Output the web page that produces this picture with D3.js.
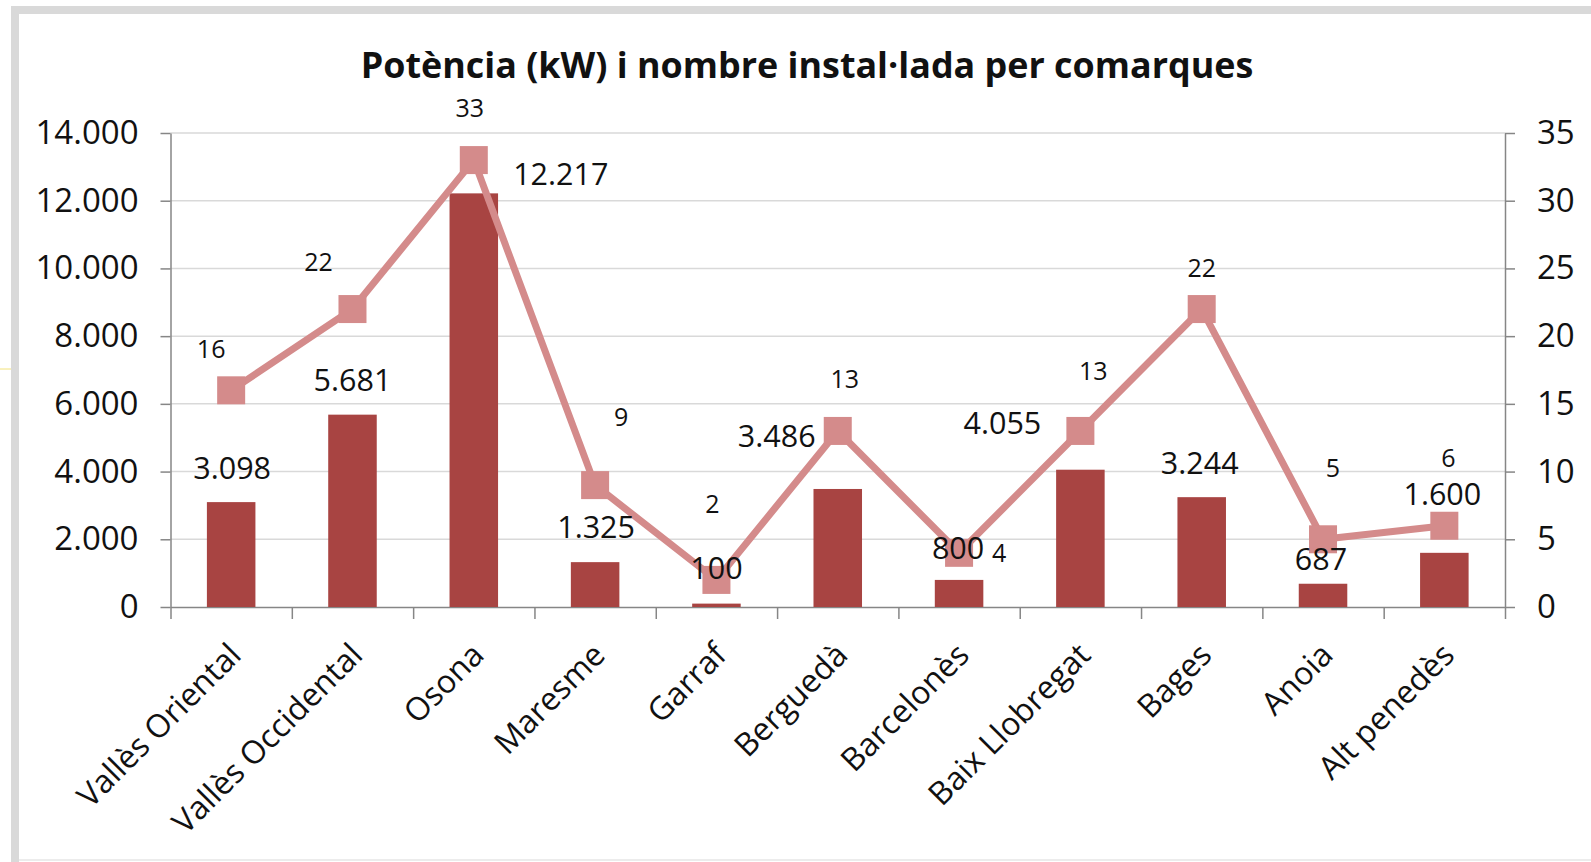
<!DOCTYPE html>
<html>
<head>
<meta charset="utf-8">
<script src="https://cdn.jsdelivr.net/npm/d3@7"></script>
<style>
  body { margin: 0; background: #fff; }
  svg text { font-family: "Open Sans", "Noto Sans", sans-serif; fill: #111; }
</style>
</head>
<body>
<svg id="chart" width="1591" height="862"></svg>
<script>
// ==================== DADES ====================
const comarques = ["Vallès Oriental", "Vallès Occidental", "Osona", "Maresme", "Garraf",
  "Berguedà", "Barcelonès", "Baix Llobregat", "Bages", "Anoia", "Alt penedès"];
const potencia = [3098, 5681, 12217, 1325, 100, 3486, 800, 4055, 3244, 687, 1600];   // kW
const nombre   = [16, 22, 33, 9, 2, 13, 4, 13, 22, 5, 6];                              // instal·lacions
const potenciaTicks = [0, 2000, 4000, 6000, 8000, 10000, 12000, 14000];
const nombreTicks   = [0, 5, 10, 15, 20, 25, 30, 35];
const titol = "Potència (kW) i nombre instal·lada per comarques";

// desplaçaments de les etiquetes (com a l'original, col·locades a mà)
const barLabelDx  = [1, 0, 87, 1, 0, -61, -1, -78, -2, -2, -2];
const barLabelDy  = [-34, -34, -19, -35, -35, -53, -32, -46, -34, -24, -59];
const lineLabelDx = [-20, -34, -4, 26, -4, 7, 40, 13, 0, 10, 4];
const lineLabelDy = [-41, -47, -52, -68, -76, -52, 0, -60, -41, -71, -67];

// ==================== ESTIL ====================
const BAR_COLOR  = "#a84442";
const LINE_COLOR = "#d48b8b";
const GRID_COLOR = "#d9d9d9";
const AXIS_COLOR = "#868686";

const plotLeft = 170.5, plotRight = 1505, plotTop = 133, plotBottom = 607;

const loc = d3.formatLocale({ decimal: ",", thousands: ".", grouping: [3], currency: ["", "€"] });
const fmt = loc.format(",d");

const svg = d3.select("#chart");

// marc
svg.append("line").attr("x1", 15).attr("x2", 15).attr("y1", 6).attr("y2", 862)
  .attr("stroke", GRID_COLOR).attr("stroke-width", 8);
svg.append("line").attr("x1", 11).attr("x2", 1591).attr("y1", 10).attr("y2", 10)
  .attr("stroke", GRID_COLOR).attr("stroke-width", 8);
svg.append("line").attr("x1", 19).attr("x2", 1591).attr("y1", 860).attr("y2", 860)
  .attr("stroke", "#e6e6e6").attr("stroke-width", 1.5);
svg.append("line").attr("x1", 0).attr("x2", 11).attr("y1", 369).attr("y2", 369)
  .attr("stroke", "#f2e27a").attr("stroke-width", 1);

// ==================== ESCALES ====================
const x = d3.scaleBand().domain(comarques).range([plotLeft, plotRight])
  .paddingInner(0.6).paddingOuter(0.3);
const xEdges = d3.scaleLinear().domain([0, comarques.length]).range([plotLeft, plotRight]);
const yL = d3.scaleLinear().domain([0, 14000]).range([plotBottom, plotTop]);
const yR = d3.scaleLinear().domain([0, 35]).range([plotBottom, plotTop]);
const cx = d => x(d) + x.bandwidth() / 2;

// graella
svg.append("g")
  .selectAll("line")
  .data(potenciaTicks.filter(t => t > 0))
  .join("line")
  .attr("x1", plotLeft).attr("x2", plotRight)
  .attr("y1", d => yL(d)).attr("y2", d => yL(d))
  .attr("stroke", GRID_COLOR).attr("stroke-width", 1.5);

// ==================== EIXOS ====================
function styleAxis(g) {
  g.selectAll("path, line").attr("stroke", AXIS_COLOR).attr("stroke-width", 1.5);
  g.selectAll("text").attr("font-size", 33).attr("fill", "#111")
    .attr("font-family", '"Open Sans", "Noto Sans", sans-serif');
}

svg.append("g")
  .attr("transform", `translate(${plotLeft},0)`)
  .call(d3.axisLeft(yL).tickValues(potenciaTicks).tickFormat(fmt)
    .tickSize(10).tickSizeOuter(0).tickPadding(22))
  .call(styleAxis);

svg.append("g")
  .attr("transform", `translate(${plotRight},0)`)
  .call(d3.axisRight(yR).tickValues(nombreTicks)
    .tickSize(10).tickSizeOuter(0).tickPadding(22))
  .call(styleAxis);

svg.append("g")
  .attr("transform", `translate(0,${plotBottom})`)
  .call(d3.axisBottom(xEdges).ticks(comarques.length).tickFormat("")
    .tickSize(12).tickSizeOuter(0))
  .call(styleAxis);

// etiquetes de categoria
svg.append("g")
  .selectAll("text")
  .data(comarques)
  .join("text")
  .attr("transform", d => `translate(${cx(d) + 4},${plotBottom + 42}) rotate(-45)`)
  .attr("text-anchor", "end")
  .attr("dy", "0.35em")
  .attr("font-size", 32)
  .text(d => d);

// ==================== BARRES ====================
svg.append("g")
  .selectAll("rect")
  .data(comarques)
  .join("rect")
  .attr("x", d => x(d))
  .attr("width", x.bandwidth())
  .attr("y", (d, i) => yL(potencia[i]))
  .attr("height", (d, i) => plotBottom - yL(potencia[i]))
  .attr("fill", BAR_COLOR);

// ==================== LÍNIA ====================
const line = d3.line()
  .x((d, i) => cx(comarques[i]))
  .y(d => yR(d));

svg.append("path")
  .datum(nombre)
  .attr("d", line)
  .attr("fill", "none")
  .attr("stroke", LINE_COLOR)
  .attr("stroke-width", 7)
  .attr("stroke-linejoin", "round");

const M = 28;
svg.append("g")
  .selectAll("rect")
  .data(nombre)
  .join("rect")
  .attr("x", (d, i) => cx(comarques[i]) - M / 2)
  .attr("y", d => yR(d) - M / 2)
  .attr("width", M).attr("height", M)
  .attr("fill", LINE_COLOR);

// ==================== ETIQUETES DE DADES ====================
svg.append("g")
  .selectAll("text")
  .data(potencia)
  .join("text")
  .attr("x", (d, i) => cx(comarques[i]) + barLabelDx[i])
  .attr("y", (d, i) => yL(d) + barLabelDy[i])
  .attr("dy", "0.35em")
  .attr("text-anchor", "middle")
  .attr("font-size", 30.5)
  .text(d => fmt(d));

svg.append("g")
  .selectAll("text")
  .data(nombre)
  .join("text")
  .attr("x", (d, i) => cx(comarques[i]) + lineLabelDx[i])
  .attr("y", (d, i) => yR(d) + lineLabelDy[i])
  .attr("dy", "0.35em")
  .attr("text-anchor", "middle")
  .attr("font-size", 25)
  .text(d => d);

// ==================== TÍTOL ====================
const t = svg.append("text")
  .attr("x", 807).attr("y", 78)
  .attr("text-anchor", "middle")
  .attr("font-weight", "bold")
  .attr("font-size", 34)
  .text(titol);
const w = t.node().getComputedTextLength();
if (w > 0) t.attr("font-size", 34 * 893 / w);
</script>
</body>
</html>
